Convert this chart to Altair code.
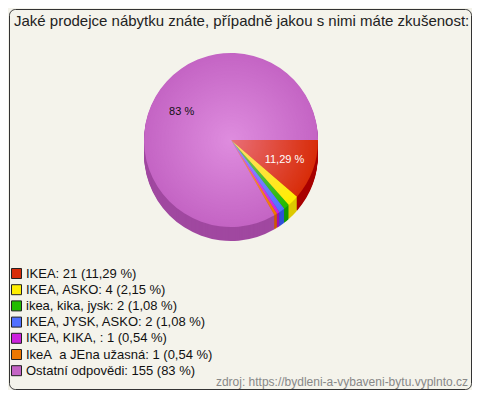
import math
import altair as alt
import pandas as pd

# ---- data ----
names = ["IKEA", "IKEA, ASKO", "ikea, kika, jysk", "IKEA, JYSK, ASKO",
         "IKEA, KIKA, ", "IkeA\u00a0 a JEna užasná", "Ostatní odpovědi"]
counts = [21, 4, 2, 2, 1, 1, 155]
pcts = ["11,29 %", "2,15 %", "1,08 %", "1,08 %", "0,54 %", "0,54 %", "83 %"]
pie_labels = ["11,29 %", "", "", "", "", "", "83 %"]

title_text = "Jaké prodejce nábytku znáte, případně jakou s nimi máte zkušenost:"
source_text = "zdroj: https://bydleni-a-vybaveni-bytu.vyplnto.cz"

# ---- styles ----
top_colors = ["#d82c08", "#ffee00", "#22bb00", "#5070ff", "#cc22dd", "#ee7700", "#c464c4"]
side_colors = ["#a80000", "#ddc800", "#119900", "#3050d8", "#a010b0", "#cc5a00", "#a048a0"]
label_colors = ["#ffffff", "#ffffff", "#ffffff", "#ffffff", "#ffffff", "#ffffff", "#111111"]

legend_labels = [f"{n}: {c} ({p})" for n, c, p in zip(names, counts, pcts)]

df = pd.DataFrame({
    "idx": list(range(len(names))),
    "count": counts,
    "label": legend_labels,
    "side": side_colors,
    "pieLabel": pie_labels,
    "labelColor": label_colors,
})

CX, CY, R, DEPTH = 222, 131, 87, 14
FONT = "Liberation Sans"

theta_enc = alt.Theta("count:Q", stack=True,
                      scale=alt.Scale(range=[math.pi / 2, math.pi / 2 + 2 * math.pi]))
order_enc = alt.Order("idx:Q")

base = alt.Chart(df)

sides = []
for d in range(DEPTH, 0, -1):
    sides.append(
        base.mark_arc(radius=R, strokeWidth=0).encode(
            theta=theta_enc, order=order_enc,
            color=alt.Color("side:N", scale=None),
            x=alt.value(CX), y=alt.value(CY + d),
        )
    )

top = base.mark_arc(radius=R, strokeWidth=0).encode(
    theta=theta_enc, order=order_enc,
    color=alt.Color("label:N",
                    scale=alt.Scale(domain=legend_labels, range=top_colors),
                    sort=legend_labels,
                    legend=alt.Legend(orient="none", legendX=1, legendY=258, title=None,
                                      symbolType="square", symbolSize=100,
                                      symbolStrokeColor="#222", symbolStrokeWidth=1,
                                      symbolOpacity=1, labelFont=FONT, labelFontSize=13,
                                      labelColor="#111", rowPadding=1.2, labelOffset=3,
                                      padding=0, labelLimit=0)),
    x=alt.value(CX), y=alt.value(CY),
)

shine = alt.Chart(alt.Data(values=[{"a": 1}])).mark_arc(
    theta=0, theta2=2 * math.pi, radius=R,
    fill={"gradient": "radial", "x1": 0.5, "y1": 0.5, "r1": 0,
          "x2": 0.5, "y2": 0.5, "r2": 0.5,
          "stops": [{"offset": 0, "color": "rgba(255,190,255,0.45)"},
                    {"offset": 1, "color": "rgba(255,190,255,0)"}]},
).encode(x=alt.value(CX), y=alt.value(CY))

labels = base.mark_text(font=FONT, fontSize=11).encode(
    theta=theta_enc, order=order_enc,
    radius=alt.value(57),
    text="pieLabel:N",
    color=alt.Color("labelColor:N", scale=None),
    x=alt.value(CX), y=alt.value(CY),
)

title = alt.Chart(alt.Data(values=[{"t": title_text}])).mark_text(
    align="left", baseline="middle", font=FONT, fontSize=15, color="#222"
).encode(x=alt.value(5), y=alt.value(12), text="t:N")

source = alt.Chart(alt.Data(values=[{"t": source_text}])).mark_text(
    align="right", baseline="middle", font=FONT, fontSize=12, color="#888"
).encode(x=alt.value(459), y=alt.value(373), text="t:N")

chart = alt.layer(*sides, top, shine, labels, title, source).resolve_scale(
    color="independent"
).properties(
    width=462, height=380, padding=1,
    autosize=alt.AutoSizeParams(type="none"),
).configure(background="#f4f3eb").configure_view(
    fill="#f4f3eb", stroke="#333", strokeWidth=1, cornerRadius=6
)

chart.save("out.html", embed_options={"renderer": "svg", "actions": False})
